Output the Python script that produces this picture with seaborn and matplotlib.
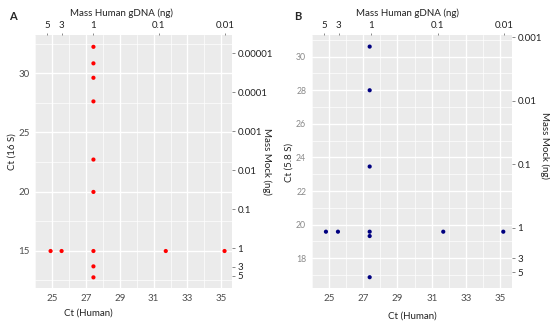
import numpy as np
import pandas as pd
import matplotlib
matplotlib.use("Agg")
import matplotlib.pyplot as plt
import seaborn as sns

sns.set_style("white")
plt.rcParams['font.family'] = ['Lato', 'DejaVu Sans']

# ---- Data ----
a_ct_human = [24.92, 25.57, 27.45, 31.72, 35.19, 27.45, 27.45, 27.45, 27.45, 27.45, 27.45, 27.45, 27.45]
a_ct_16s = [14.97, 14.97, 14.97, 14.97, 14.97, 32.25, 30.85, 29.63, 27.63, 22.71, 19.97, 13.67, 12.74]

b_ct_human = [24.83, 25.53, 27.38, 31.67, 35.17, 27.38, 27.38, 27.38, 27.38, 27.38]
b_ct_58s = [19.58, 19.58, 19.58, 19.58, 19.58, 30.6, 28.0, 23.46, 19.32, 16.87]

human_mass_ticks = [5, 3, 1, 0.1, 0.01]
human_mass_labels = ["5", "3", "1", "0.1", "0.01"]
a_mock_ticks = [0.00001, 0.0001, 0.001, 0.01, 0.1, 1, 3, 5]
a_mock_labels = ["0.00001", "0.0001", "0.001", "0.01", "0.1", "1", "3", "5"]
b_mock_ticks = [0.001, 0.01, 0.1, 1, 3, 5]
b_mock_labels = ["0.001", "0.01", "0.1", "1", "3", "5"]

# calibration of secondary axes (Ct at 1 ng, Ct per decade)
a_top = (27.43, 3.89)
a_right = (15.2, 3.3)
b_top = (27.44, 3.9)
b_right = (19.8, 3.79)

df_a = pd.DataFrame({"x": a_ct_human, "y": a_ct_16s})
df_b = pd.DataFrame({"x": b_ct_human, "y": b_ct_58s})

W, H = 550, 325
fig = plt.figure(figsize=(W / 100, H / 100), dpi=100)
axA = fig.add_axes([35/W, 1-288/H, 197/W, 253/H])
axB = fig.add_axes([311.7/W, 1-288.3/H, 200/W, 253.3/H])

FS = 7
TICKC = "#4d4d4d"
LABC = "#222222"


def make_funcs(c0, k):
    def fwd(ct):
        ct = np.asarray(ct, dtype=float)
        return 10 ** (-(ct - c0) / k)

    def inv(m):
        m = np.asarray(m, dtype=float)
        m = np.clip(m, 1e-30, None)
        return c0 - k * np.log10(m)
    return fwd, inv


def place(axis, px, py):
    axis.set_label_coords(px / W, 1 - py / H, transform=fig.transFigure)
    axis.label.set_horizontalalignment("center")
    axis.label.set_verticalalignment("center")


def style(ax, df, color, xlim, ylim, ymajor, yminor, ylabel, top, right,
          mticks, mlabels, pos):
    ax.set_facecolor("#EBEBEB")
    sns.scatterplot(data=df, x="x", y="y", ax=ax, color=color, s=9,
                    edgecolor="none", zorder=3)
    ax.set_xlim(*xlim)
    ax.set_ylim(*ylim)
    ax.set_xticks([25, 27, 29, 31, 33, 35])
    ax.set_xticks(np.arange(24, 36, 1), minor=True)
    ax.set_yticks(ymajor)
    ax.set_yticks(yminor, minor=True)
    ax.grid(True, which="major", color="white", linewidth=1.0, zorder=0)
    ax.grid(True, which="minor", color="white", linewidth=0.5, zorder=0)
    ax.set_axisbelow(True)
    for s in ax.spines.values():
        s.set_visible(False)
    ax.tick_params(which="major", length=2, width=0.6, color="#777777",
                   labelsize=FS, labelcolor=TICKC, pad=2)
    ax.tick_params(which="minor", length=0)
    ax.set_xlabel("Ct (Human)", fontsize=FS, color=LABC)
    ax.set_ylabel(ylabel, fontsize=FS, color=LABC)
    place(ax.xaxis, *pos["bottom"])
    place(ax.yaxis, *pos["left"])

    # top secondary axis
    f, i = make_funcs(*top)
    secx = ax.secondary_xaxis("top", functions=(f, i))
    secx.set_xticks(human_mass_ticks, labels=human_mass_labels)
    secx.tick_params(length=1.5, width=0.6, color="#777777", labelsize=FS,
                     labelcolor=LABC, pad=2)
    secx.set_xlabel("Mass Human gDNA (ng)", fontsize=FS, color=LABC)
    place(secx.xaxis, *pos["top"])
    for s in secx.spines.values():
        s.set_visible(False)

    # right secondary axis
    f2, i2 = make_funcs(*right)
    secy = ax.secondary_yaxis("right", functions=(f2, i2))
    secy.set_yticks(mticks, labels=mlabels)
    secy.tick_params(length=2, width=0.6, color="#777777", labelsize=FS,
                     labelcolor=LABC, pad=2)
    secy.set_ylabel("Mass Mock (ng)", fontsize=FS, color=LABC, rotation=270)
    place(secy.yaxis, *pos["right"])
    for s in secy.spines.values():
        s.set_visible(False)
    return secx, secy


style(axA, df_a, "#FF0000", (24.39, 35.63), (11.84, 33.25),
      [15, 20, 25, 30], [12.5, 17.5, 22.5, 27.5, 32.5], "Ct (16 S)",
      a_top, a_right, a_mock_ticks, a_mock_labels,
      {"bottom": (88.8, 312.7), "left": (11.7, 152), "top": (121, 13),
       "right": (266.7, 161.7)})

style(axB, df_b, "#000080", (24.3, 35.66), (16.21, 31.29),
      [18, 20, 22, 24, 26, 28, 30], [17, 19, 21, 23, 25, 27, 29, 31],
      "Ct (5.8 S)", b_top, b_right, b_mock_ticks, b_mock_labels,
      {"bottom": (412, 315.7), "left": (289.5, 162.5), "top": (407.5, 13),
       "right": (545, 145.5)})
axB.tick_params(axis="y", labelcolor="#8a8a8a", labelsize=6.3)

fig.text(13/W, 1-17/H, "A", fontsize=8, fontweight="bold", ha="center", va="center")
fig.text(298/W, 1-16/H, "B", fontsize=8, fontweight="bold", ha="center", va="center")

fig.savefig("out.png", dpi=100)
